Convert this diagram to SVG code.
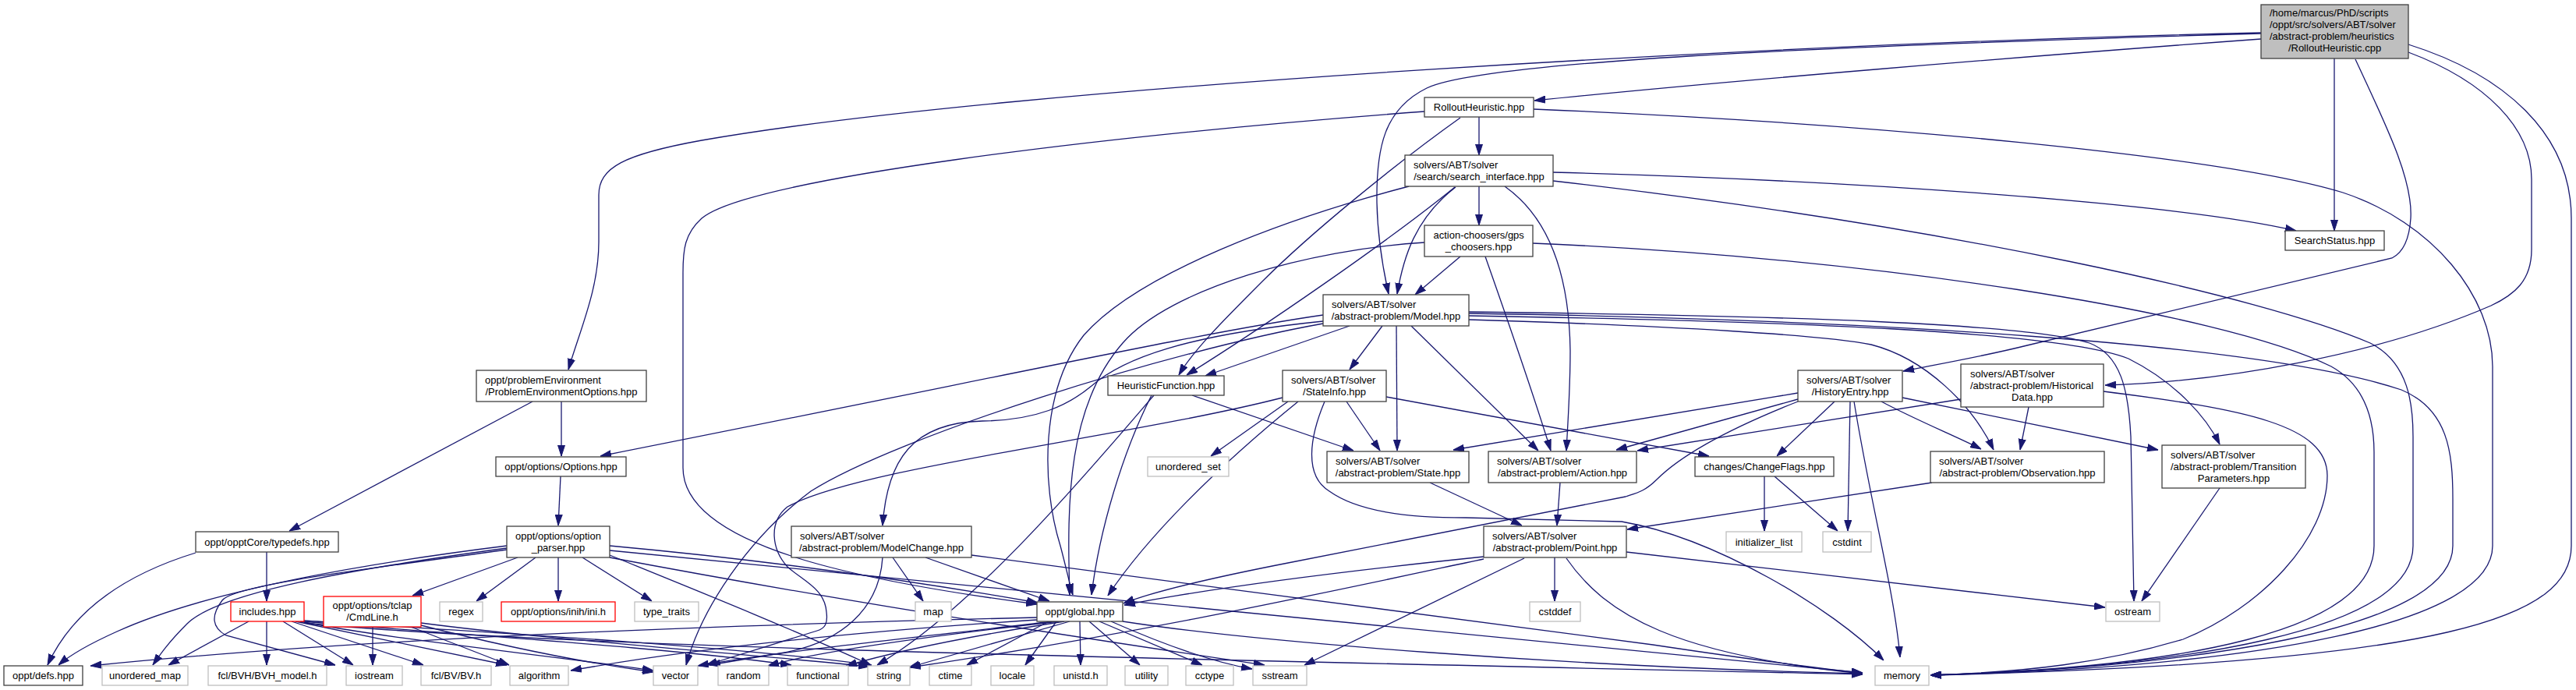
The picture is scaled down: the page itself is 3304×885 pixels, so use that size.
<svg xmlns="http://www.w3.org/2000/svg" width="3304" height="885" viewBox="0 0 3304 885">
<defs>
<marker id="arr" markerUnits="userSpaceOnUse" markerWidth="14" markerHeight="10" refX="14" refY="5" orient="auto"><path d="M0,0.5 L14,5 L0,9.5 z" fill="#191970" stroke="#191970" stroke-width="1"/></marker>
</defs>
<style>
rect{fill:#ffffff;stroke:#404040;stroke-width:1.3}
.g rect{stroke:#bfbfbf}
.r rect{stroke:#ff0000}
.m rect{fill:#bfbfbf}
text{font-family:"Liberation Sans",Arial,Helvetica,sans-serif;font-size:13px;fill:#000}
.c{text-anchor:middle}
#edges path{fill:none;stroke:#191970;stroke-width:1.3;marker-end:url(#arr)}
</style>
<rect x="0" y="0" width="3304" height="885" style="fill:#fff;stroke:none"/>
<g id="edges">
<path d="M2900,50 C2600,72 2200,105 1968,129"/>
<path d="M2900,43 C2300,60 1900,80 1830,113 C1775,140 1765,190 1766,260 C1767,310 1775,350 1781,377"/>
<path d="M2994,75 L2994,296"/>
<path d="M3021,76 C3060,160 3095,230 3092,280 C3090,310 3080,325 3068,331 L2600,443 C2540,458 2480,468 2441,476"/>
<path d="M3089,67 C3190,105 3247,165 3247,230 L3247,320 C3247,360 3225,378 3195,392 C3050,455 2850,490 2700,494"/>
<path d="M3089,57 C3210,95 3298,170 3298,280 L3298,700 C3298,790 3150,850 2476,866"/>
<path d="M2900,42 C2300,55 1300,110 900,180 C800,198 768,215 768,250 L768,310 C768,370 745,420 729,474"/>
<path d="M1897,150 L1897,199"/>
<path d="M1827,143 C1400,175 960,230 900,280 C878,300 876,320 876,350 L876,600 C876,700 1100,745 1330,775"/>
<path d="M1873,151 C1790,210 1680,300 1620,360 C1570,410 1530,450 1512,481"/>
<path d="M1967,140 C2400,158 2850,200 3005,247 C3120,285 3197,380 3197,470 L3197,700 C3197,800 2900,855 2476,866"/>
<path d="M1897,239 L1897,289"/>
<path d="M1867,240 C1815,280 1800,330 1792,377"/>
<path d="M1866,240 C1780,310 1620,420 1522,481"/>
<path d="M1807,239 C1650,280 1460,350 1390,430 C1335,500 1335,620 1360,700 C1368,730 1372,750 1376,763"/>
<path d="M1930,239 C1995,285 2013,370 2014,450 C2014,500 2011,540 2009,578"/>
<path d="M1992,221 C2400,232 2800,262 2945,296"/>
<path d="M1992,232 C2500,290 2900,380 3040,440 C3090,465 3095,520 3095,560 L3095,700 C3095,810 2800,856 2476,866"/>
<path d="M1873,329 L1815,378"/>
<path d="M1905,329 C1930,400 1965,500 1989,578"/>
<path d="M1827,311 C1680,320 1500,370 1440,440 C1370,520 1368,640 1372,763"/>
<path d="M1966,312 C2400,330 2850,400 2990,470 C3035,495 3045,540 3045,580 L3045,700 C3045,810 2800,856 2476,866"/>
<path d="M1731,418 L1546,482"/>
<path d="M1773,418 L1731,474"/>
<path d="M1791,418 L1792,578"/>
<path d="M1810,418 L1973,578"/>
<path d="M1697,404 C1550,425 1300,480 770,585"/>
<path d="M1697,412 C1520,430 1440,460 1400,495 C1370,520 1330,539 1260,540 C1170,542 1138,590 1132,674"/>
<path d="M1697,415 C1500,450 1150,560 1040,630 C960,690 900,780 880,853"/>
<path d="M1884,400 C2300,405 2600,415 2680,440 C2720,455 2730,500 2733,560 L2737,771"/>
<path d="M1884,405 C2300,412 2640,425 2730,460 C2790,490 2830,535 2847,570"/>
<path d="M1884,410 C2150,418 2340,430 2400,442 C2470,460 2530,520 2557,577"/>
<path d="M1884,402 C2400,410 2900,440 3080,500 C3140,525 3146,580 3146,640 L3146,700 C3146,810 2800,856 2476,866"/>
<path d="M1477,507 C1440,580 1410,680 1400,763"/>
<path d="M1529,507 L1736,578"/>
<path d="M1480,507 C1400,600 1250,780 1125,853"/>
<path d="M1727,515 L1770,578"/>
<path d="M1778,509 L2192,585"/>
<path d="M1652,515 L1553,585"/>
<path d="M1665,515 C1560,600 1470,690 1421,764"/>
<path d="M1645,510 C1450,560 1100,600 1010,650 C985,670 990,705 1010,727 C1030,745 1058,755 1060,785 C1062,800 1058,806 1048,809 L906,853"/>
<path d="M1699,515 C1680,560 1672,610 1705,630 C1740,655 1800,664 1880,664 L2080,669 C2200,690 2350,780 2416,847"/>
<path d="M2306,504 L1864,577"/>
<path d="M2306,512 L2073,577"/>
<path d="M2306,515 C2230,545 2160,580 2125,615 C2110,630 2100,632 2085,637 L1652,722 C1560,740 1480,758 1441,774"/>
<path d="M2353,515 L2279,585"/>
<path d="M2373,515 L2370,681"/>
<path d="M2378,515 C2400,650 2430,760 2437,843"/>
<path d="M2440,510 L2768,577"/>
<path d="M2413,515 C2460,540 2510,560 2541,576"/>
<path d="M2602,522 L2591,577"/>
<path d="M2515,512 L2100,578"/>
<path d="M2698,502 C2880,525 2985,545 2985,610 C2985,690 2900,780 2800,820 C2700,850 2600,862 2476,866"/>
<path d="M720,515 L720,585"/>
<path d="M683,515 L371,681"/>
<path d="M719,611 L716,674"/>
<path d="M251,709 C150,740 90,790 61,853"/>
<path d="M342,708 L342,771"/>
<path d="M664,715 L529,764"/>
<path d="M687,715 L611,771"/>
<path d="M716,715 L716,771"/>
<path d="M747,715 L836,771"/>
<path d="M650,700 C450,725 260,760 150,810 C110,828 90,840 75,853"/>
<path d="M650,703 C450,730 280,760 240,800 C215,825 205,840 196,853"/>
<path d="M650,705 C470,730 300,750 285,770 C270,790 272,805 290,815 L430,853"/>
<path d="M782,700 C1000,720 1200,750 1331,773"/>
<path d="M782,712 C900,760 1000,800 1117,853"/>
<path d="M782,715 C1100,775 1400,820 1622,853"/>
<path d="M782,706 L2389,863"/>
<path d="M319,797 L216,853"/>
<path d="M342,797 L342,853"/>
<path d="M363,797 L453,853"/>
<path d="M374,797 L543,853"/>
<path d="M379,797 L650,853"/>
<path d="M385,797 C500,820 700,840 838,860"/>
<path d="M388,797 C600,815 850,830 1015,853"/>
<path d="M390,796 C650,812 950,830 1118,853"/>
<path d="M390,799 C700,830 1500,845 2389,865"/>
<path d="M478,804 L478,853"/>
<path d="M527,804 L653,853"/>
<path d="M540,802 C650,830 750,850 838,862"/>
<path d="M540,799 C700,820 950,838 1115,855"/>
<path d="M1330,792 C1000,800 500,815 116,854"/>
<path d="M1330,795 C1100,810 900,830 732,860"/>
<path d="M1350,797 C1200,815 1000,835 895,854"/>
<path d="M1358,797 C1200,815 1050,835 985,854"/>
<path d="M1365,797 C1250,815 1150,835 1085,854"/>
<path d="M1372,797 L1166,856"/>
<path d="M1345,797 L1240,853"/>
<path d="M1355,797 L1315,853"/>
<path d="M1385,797 L1386,853"/>
<path d="M1397,797 L1462,853"/>
<path d="M1410,797 L1542,853"/>
<path d="M1425,797 C1500,830 1560,850 1606,858"/>
<path d="M1440,797 C1600,822 2000,855 2389,864"/>
<path d="M1145,715 L1184,771"/>
<path d="M1187,715 L1346,771"/>
<path d="M1246,712 L2120,827 C2220,842 2320,856 2389,863"/>
<path d="M1132,715 C1128,780 1080,825 1000,838 L910,853"/>
<path d="M1903,714 C1700,735 1550,755 1442,776"/>
<path d="M1903,717 C1700,760 1450,815 1167,856"/>
<path d="M1955,716 L1673,853"/>
<path d="M1994,715 L1994,771"/>
<path d="M2009,716 C2060,790 2150,840 2389,864"/>
<path d="M2086,708 L2700,779"/>
<path d="M1834,619 L1952,674"/>
<path d="M2001,619 L1997,674"/>
<path d="M2478,619 L2087,679"/>
<path d="M2847,626 L2747,771"/>
<path d="M2263,611 L2263,681"/>
<path d="M2276,611 L2357,681"/>
</g>
<g id="main" class="m"><rect x="2900" y="6" width="189" height="69"/><text x="2911" y="21">/home/marcus/PhD/scripts</text><text x="2911" y="36">/oppt/src/solvers/ABT/solver</text><text x="2911" y="51">/abstract-problem/heuristics</text><text class="c" x="2994.5" y="66">/RolloutHeuristic.cpp</text></g>
<g id="rollout_hpp"><rect x="1827" y="125" width="140" height="25"/><text class="c" x="1897" y="142">RolloutHeuristic.hpp</text></g>
<g id="search_interface"><rect x="1802" y="199" width="190" height="40"/><text x="1813" y="215.5">solvers/ABT/solver</text><text class="c" x="1897" y="230.5">/search/search_interface.hpp</text></g>
<g id="gps_choosers"><rect x="1827" y="289" width="139" height="40"/><text x="1838.5" y="305.5">action-choosers/gps</text><text class="c" x="1896.5" y="320.5">_choosers.hpp</text></g>
<g id="searchstatus"><rect x="2931" y="296" width="127" height="25"/><text class="c" x="2994.5" y="313">SearchStatus.hpp</text></g>
<g id="model"><rect x="1697" y="378" width="187" height="40"/><text x="1708" y="394.5">solvers/ABT/solver</text><text class="c" x="1790.5" y="409.5">/abstract-problem/Model.hpp</text></g>
<g id="heuristicfunction"><rect x="1421" y="482" width="149" height="25"/><text class="c" x="1495.5" y="499">HeuristicFunction.hpp</text></g>
<g id="stateinfo"><rect x="1645" y="475" width="133" height="40"/><text x="1656" y="491.5">solvers/ABT/solver</text><text class="c" x="1711.5" y="506.5">/StateInfo.hpp</text></g>
<g id="historyentry"><rect x="2306" y="475" width="134" height="40"/><text x="2317" y="491.5">solvers/ABT/solver</text><text class="c" x="2373" y="506.5">/HistoryEntry.hpp</text></g>
<g id="historicaldata"><rect x="2515" y="467" width="183" height="55"/><text x="2527" y="483.5">solvers/ABT/solver</text><text x="2527" y="498.5">/abstract-problem/Historical</text><text class="c" x="2606.5" y="513.5">Data.hpp</text></g>
<g id="probenvoptions"><rect x="611" y="475" width="218" height="40"/><text x="622" y="491.5">oppt/problemEnvironment</text><text class="c" x="720" y="506.5">/ProblemEnvironmentOptions.hpp</text></g>
<g id="options"><rect x="636" y="586" width="167" height="25"/><text class="c" x="719.5" y="603">oppt/options/Options.hpp</text></g>
<g id="unordered_set" class="g"><rect x="1472" y="586" width="104" height="25"/><text class="c" x="1524" y="603">unordered_set</text></g>
<g id="state"><rect x="1702" y="579" width="182" height="40"/><text x="1713" y="595.5">solvers/ABT/solver</text><text class="c" x="1793" y="610.5">/abstract-problem/State.hpp</text></g>
<g id="action"><rect x="1909" y="579" width="190" height="40"/><text x="1920" y="595.5">solvers/ABT/solver</text><text class="c" x="2004" y="610.5">/abstract-problem/Action.hpp</text></g>
<g id="changeflags"><rect x="2174" y="586" width="178" height="25"/><text class="c" x="2263" y="603">changes/ChangeFlags.hpp</text></g>
<g id="observation"><rect x="2476" y="579" width="223" height="40"/><text x="2487" y="595.5">solvers/ABT/solver</text><text class="c" x="2587.5" y="610.5">/abstract-problem/Observation.hpp</text></g>
<g id="transitionparameters"><rect x="2773" y="571" width="184" height="55"/><text x="2784" y="587.5">solvers/ABT/solver</text><text x="2784" y="602.5">/abstract-problem/Transition</text><text class="c" x="2865" y="617.5">Parameters.hpp</text></g>
<g id="option_parser"><rect x="650" y="675" width="132" height="40"/><text x="661" y="691.5">oppt/options/option</text><text class="c" x="716" y="706.5">_parser.hpp</text></g>
<g id="typedefs"><rect x="251" y="682" width="183" height="26"/><text class="c" x="342.5" y="699.5">oppt/opptCore/typedefs.hpp</text></g>
<g id="modelchange"><rect x="1015" y="675" width="231" height="40"/><text x="1026" y="691.5">solvers/ABT/solver</text><text class="c" x="1130.5" y="706.5">/abstract-problem/ModelChange.hpp</text></g>
<g id="point"><rect x="1903" y="675" width="183" height="40"/><text x="1914" y="691.5">solvers/ABT/solver</text><text class="c" x="1994.5" y="706.5">/abstract-problem/Point.hpp</text></g>
<g id="initializer_list" class="g"><rect x="2214" y="682" width="97" height="26"/><text class="c" x="2262.5" y="699.5">initializer_list</text></g>
<g id="cstdint" class="g"><rect x="2338" y="682" width="62" height="26"/><text class="c" x="2369" y="699.5">cstdint</text></g>
<g id="includes" class="r"><rect x="296" y="772" width="94" height="25"/><text class="c" x="343" y="789">includes.hpp</text></g>
<g id="cmdline" class="r"><rect x="415" y="765" width="125" height="39"/><text x="426.5" y="781">oppt/options/tclap</text><text class="c" x="477.5" y="796">/CmdLine.h</text></g>
<g id="regex" class="g"><rect x="564" y="772" width="55" height="25"/><text class="c" x="591.5" y="789">regex</text></g>
<g id="ini" class="r"><rect x="643" y="772" width="146" height="25"/><text class="c" x="716" y="789">oppt/options/inih/ini.h</text></g>
<g id="type_traits" class="g"><rect x="814" y="772" width="82" height="25"/><text class="c" x="855" y="789">type_traits</text></g>
<g id="map" class="g"><rect x="1174" y="772" width="46" height="25"/><text class="c" x="1197" y="789">map</text></g>
<g id="global"><rect x="1330" y="772" width="110" height="25"/><text class="c" x="1385" y="789">oppt/global.hpp</text></g>
<g id="cstddef" class="g"><rect x="1962" y="772" width="65" height="25"/><text class="c" x="1994.5" y="789">cstddef</text></g>
<g id="ostream" class="g"><rect x="2701" y="772" width="69" height="25"/><text class="c" x="2735.5" y="789">ostream</text></g>
<g id="defs"><rect x="5" y="854" width="101" height="25"/><text class="c" x="55.5" y="871">oppt/defs.hpp</text></g>
<g id="unordered_map" class="g"><rect x="131" y="854" width="110" height="25"/><text class="c" x="186" y="871">unordered_map</text></g>
<g id="bvh_model" class="g"><rect x="267" y="854" width="152" height="25"/><text class="c" x="343" y="871">fcl/BVH/BVH_model.h</text></g>
<g id="iostream" class="g"><rect x="444" y="854" width="72" height="25"/><text class="c" x="480" y="871">iostream</text></g>
<g id="bv" class="g"><rect x="540" y="854" width="90" height="25"/><text class="c" x="585" y="871">fcl/BV/BV.h</text></g>
<g id="algorithm" class="g"><rect x="654" y="854" width="75" height="25"/><text class="c" x="691.5" y="871">algorithm</text></g>
<g id="vector" class="g"><rect x="838" y="854" width="57" height="25"/><text class="c" x="866.5" y="871">vector</text></g>
<g id="random" class="g"><rect x="921" y="854" width="65" height="25"/><text class="c" x="953.5" y="871">random</text></g>
<g id="functional" class="g"><rect x="1010" y="854" width="78" height="25"/><text class="c" x="1049" y="871">functional</text></g>
<g id="string" class="g"><rect x="1113" y="854" width="54" height="25"/><text class="c" x="1140" y="871">string</text></g>
<g id="ctime" class="g"><rect x="1192" y="854" width="54" height="25"/><text class="c" x="1219" y="871">ctime</text></g>
<g id="locale" class="g"><rect x="1271" y="854" width="55" height="25"/><text class="c" x="1298.5" y="871">locale</text></g>
<g id="unistd" class="g"><rect x="1352" y="854" width="68" height="25"/><text class="c" x="1386" y="871">unistd.h</text></g>
<g id="utility" class="g"><rect x="1443" y="854" width="55" height="25"/><text class="c" x="1470.5" y="871">utility</text></g>
<g id="cctype" class="g"><rect x="1521" y="854" width="61" height="25"/><text class="c" x="1551.5" y="871">cctype</text></g>
<g id="sstream" class="g"><rect x="1607" y="854" width="69" height="25"/><text class="c" x="1641.5" y="871">sstream</text></g>
<g id="memory" class="g"><rect x="2405" y="854" width="69" height="25"/><text class="c" x="2439.5" y="871">memory</text></g>
</svg>
